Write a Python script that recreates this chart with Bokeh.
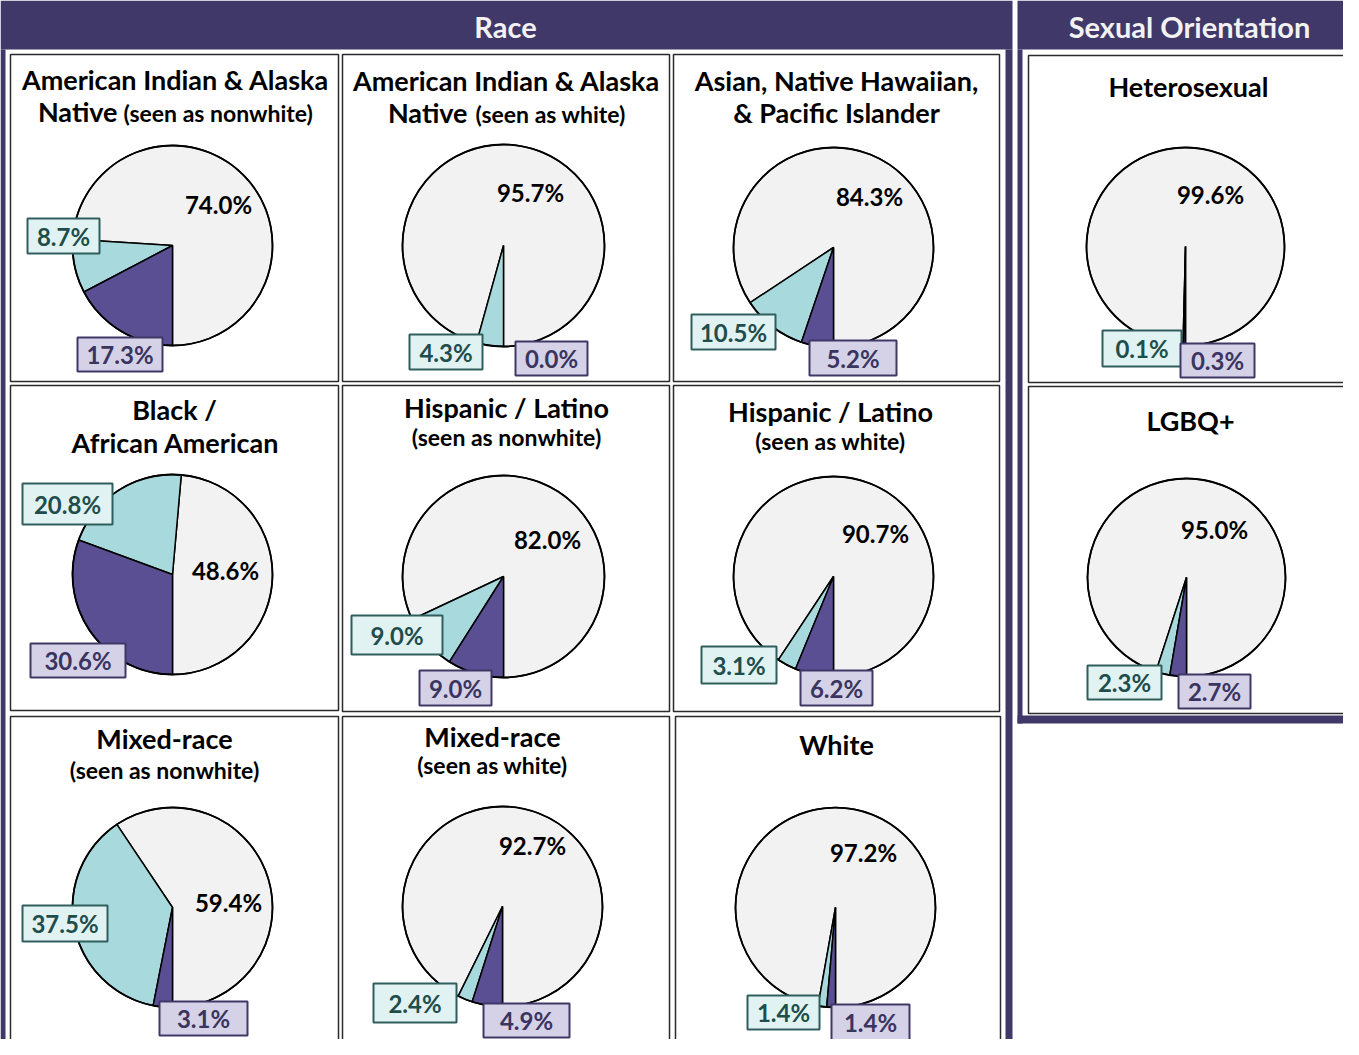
import numpy as np
from bokeh.plotting import figure
from bokeh.models import Range1d
from bokeh.core.properties import value
from bokeh.embed import file_html
from bokeh.resources import INLINE

# ---------------- data ----------------
group_labels = ["Race", "Sexual Orientation"]
panel_titles = [
    "American Indian & Alaska Native (seen as nonwhite)",
    "American Indian & Alaska Native (seen as white)",
    "Asian, Native Hawaiian, & Pacific Islander",
    "Black / African American",
    "Hispanic / Latino (seen as nonwhite)",
    "Hispanic / Latino (seen as white)",
    "Mixed-race (seen as nonwhite)",
    "Mixed-race (seen as white)",
    "White",
    "Heterosexual",
    "LGBQ+",
]
grey_pct = [74.0, 95.7, 84.3, 48.6, 82.0, 90.7, 59.4, 92.7, 97.2, 99.6, 95.0]
teal_pct = [8.7, 4.3, 10.5, 20.8, 9.0, 3.1, 37.5, 2.4, 1.4, 0.1, 2.3]
purple_pct = [17.3, 0.0, 5.2, 30.6, 9.0, 6.2, 3.1, 4.9, 1.4, 0.3, 2.7]

# ---------------- layout (page pixel positions) ----------------
FONT = value("Lato")
HEADER = "#403869"
GREY, TEAL, PURPLE = "#f2f2f2", "#a8d9dc", "#5b4f94"
TEAL_BOX, TEAL_EDGE, TEAL_TXT = "#e1f2f3", "#2f5e5c", "#1f4d4b"
PUR_BOX, PUR_EDGE, PUR_TXT = "#d5d2e7", "#3e3867", "#3a3460"
T_MAIN, T_SUB, T_VAL, T_HEAD = 27, 23, 24, 29

H = 1055
def Y(sy):
    return H - sy

panel_boxes = [(18, 62, 346, 389), (350, 62, 677, 389), (681, 62, 1007, 389),
               (18, 393, 346, 718), (350, 393, 677, 719), (681, 393, 1007, 719),
               (18, 724, 346, 1050), (350, 724, 677, 1050), (683, 724, 1008, 1050),
               (1036, 63, 1357, 390), (1036, 394, 1357, 721)]
pie_centers = [(180, 253), (511, 253), (841, 255), (180, 582), (511, 584), (841, 584),
               (180, 915), (510, 914), (843, 915), (1193, 254), (1194, 585)]
pie_r = [100, 101, 100, 100, 101, 100, 100, 100, 100, 99, 99]

# title lines: (text, x, middle y, size, align)
title_lines = [
    [("American Indian & Alaska", 183, 86.5, T_MAIN, "center"), ("Native", 125, 119, T_MAIN, "right"),
     ("(seen as nonwhite)", 131, 120, T_SUB, "left")],
    [("American Indian & Alaska", 514, 88, T_MAIN, "center"), ("Native", 475, 120, T_MAIN, "right"),
     ("(seen as white)", 483, 121, T_SUB, "left")],
    [("Asian, Native Hawaiian,", 844, 87.5, T_MAIN, "center"), ("& Pacific Islander", 844, 119.5, T_MAIN, "center")],
    [("Black /", 182, 417, T_MAIN, "center"), ("African American", 183, 450, T_MAIN, "center")],
    [("Hispanic / Latino", 514, 415, T_MAIN, "center"), ("(seen as nonwhite)", 514, 444, T_SUB, "center")],
    [("Hispanic / Latino", 838, 418.5, T_MAIN, "center"), ("(seen as white)", 838, 448, T_SUB, "center")],
    [("Mixed-race", 172, 746, T_MAIN, "center"), ("(seen as nonwhite)", 172, 777, T_SUB, "center")],
    [("Mixed-race", 500, 743.5, T_MAIN, "center"), ("(seen as white)", 500, 772, T_SUB, "center")],
    [("White", 844, 752, T_MAIN, "center")],
    [("Heterosexual", 1196, 94, T_MAIN, "center")],
    [("LGBQ+", 1198, 427.5, T_MAIN, "center")],
]
grey_lbl_pos = [(226, 212), (538, 200), (877, 204), (233, 578), (555, 547), (883, 541),
                (236, 910), (540, 853), (871, 860), (1218, 202), (1222, 537)]
teal_boxes = [(35, 226, 107, 261), (417, 342, 490, 377), (699, 322, 783, 357), (30, 491, 120, 532),
              (359, 623, 450, 662), (709, 654, 784, 691), (30, 913, 115, 949), (381, 991, 464, 1030),
              (755, 1003, 827, 1037), (1110, 338, 1189, 374), (1095, 673, 1169, 707)]
purple_boxes = [(85, 345, 170, 379), (523, 349, 595, 383), (817, 348, 904, 383), (38, 651, 133, 685),
                (427, 678, 499, 713), (808, 678, 880, 713), (167, 1009, 255, 1043), (491, 1011, 577, 1045),
                (839, 1012, 917, 1048), (1188, 351, 1262, 385), (1186, 682, 1258, 716)]

p = figure(width=1343, height=1039, x_range=Range1d(8, 1351), y_range=Range1d(8, 1047),
           x_axis_type=None, y_axis_type=None, toolbar_location=None, output_backend="svg",
           min_border=0, outline_line_color=None, background_fill_color="white",
           border_fill_color="white")
p.grid.grid_line_color = None

# ---- group frames ----
frame_l = [8, 8, 1013, 1025, 1025, 1025]
frame_r = [1020, 13, 1020, 1359, 1030, 1359]
frame_t = [8, 57, 57, 8, 57, 723]
frame_b = [57, 1055, 1055, 57, 731, 731]
p.quad(left=frame_l, right=frame_r, top=[Y(v) for v in frame_t], bottom=[Y(v) for v in frame_b],
       fill_color=HEADER, line_color=None)
p.text(x=[513, 1197], y=[Y(34), Y(34)], text=group_labels, text_font=FONT, text_font_style="bold",
       text_font_size=f"{T_HEAD}px", text_color="#f2f2f2", text_align="center",
       text_baseline="middle")

# ---- panels ----
p.quad(left=[b[0] for b in panel_boxes], right=[b[2] for b in panel_boxes],
       top=[Y(b[1]) for b in panel_boxes], bottom=[Y(b[3]) for b in panel_boxes],
       fill_color="white", line_color="#2b2b2b", line_width=1.5)

# ---- pies (slices run clockwise from 6 o'clock: purple, teal, grey) ----
wx, wy, wr, ws, we, wc = [], [], [], [], [], []
for i in range(len(grey_pct)):
    cx, cy = pie_centers[i]
    r = pie_r[i]
    pu, te, gr = purple_pct[i], teal_pct[i], grey_pct[i]
    a0 = 270.0
    a1 = a0 - 3.6 * pu
    a2 = a1 - 3.6 * te
    for (s, e, c, v) in [(a0, a2 + 360.0, GREY, gr), (a2, a1, TEAL, te), (a1, a0, PURPLE, pu)]:
        if v <= 0:
            continue
        wx.append(cx); wy.append(Y(cy)); wr.append(r)
        ws.append(np.deg2rad(s)); we.append(np.deg2rad(e)); wc.append(c)
p.wedge(x=wx, y=wy, radius=wr, start_angle=ws, end_angle=we, fill_color=wc,
        line_color="black", line_width=1.5, direction="anticlock")
p.circle(x=[c[0] for c in pie_centers], y=[Y(c[1]) for c in pie_centers], radius=pie_r,
         fill_color=None, line_color="black", line_width=1.8)

# ---- titles ----
for lines in title_lines:
    for (t, x, ym, sz, al) in lines:
        p.text(x=[x], y=[Y(ym)], text=[t], text_font=FONT, text_font_style="bold",
               text_font_size=f"{sz}px", text_color="black", text_align=al,
               text_baseline="middle")

# ---- value labels ----
fmt = lambda v: f"{v:.1f}%"
p.text(x=[q[0] for q in grey_lbl_pos], y=[Y(q[1]) for q in grey_lbl_pos],
       text=[fmt(v) for v in grey_pct], text_font=FONT, text_font_style="bold",
       text_font_size=f"{T_VAL}px", text_color="black", text_align="center", text_baseline="middle")

p.quad(left=[b[0] for b in teal_boxes], right=[b[2] for b in teal_boxes],
       top=[Y(b[1]) for b in teal_boxes], bottom=[Y(b[3]) for b in teal_boxes],
       fill_color=TEAL_BOX, line_color=TEAL_EDGE, line_width=2)
p.text(x=[(b[0] + b[2]) / 2 for b in teal_boxes], y=[Y((b[1] + b[3]) / 2) for b in teal_boxes],
       text=[fmt(v) for v in teal_pct], text_font=FONT, text_font_style="bold",
       text_font_size=f"{T_VAL}px", text_color=TEAL_TXT, text_align="center", text_baseline="middle")

p.quad(left=[b[0] for b in purple_boxes], right=[b[2] for b in purple_boxes],
       top=[Y(b[1]) for b in purple_boxes], bottom=[Y(b[3]) for b in purple_boxes],
       fill_color=PUR_BOX, line_color=PUR_EDGE, line_width=2)
p.text(x=[(b[0] + b[2]) / 2 for b in purple_boxes], y=[Y((b[1] + b[3]) / 2) for b in purple_boxes],
       text=[fmt(v) for v in purple_pct], text_font=FONT, text_font_style="bold",
       text_font_size=f"{T_VAL}px", text_color=PUR_TXT, text_align="center", text_baseline="middle")

open("out.html", "w").write(file_html(p, INLINE))
